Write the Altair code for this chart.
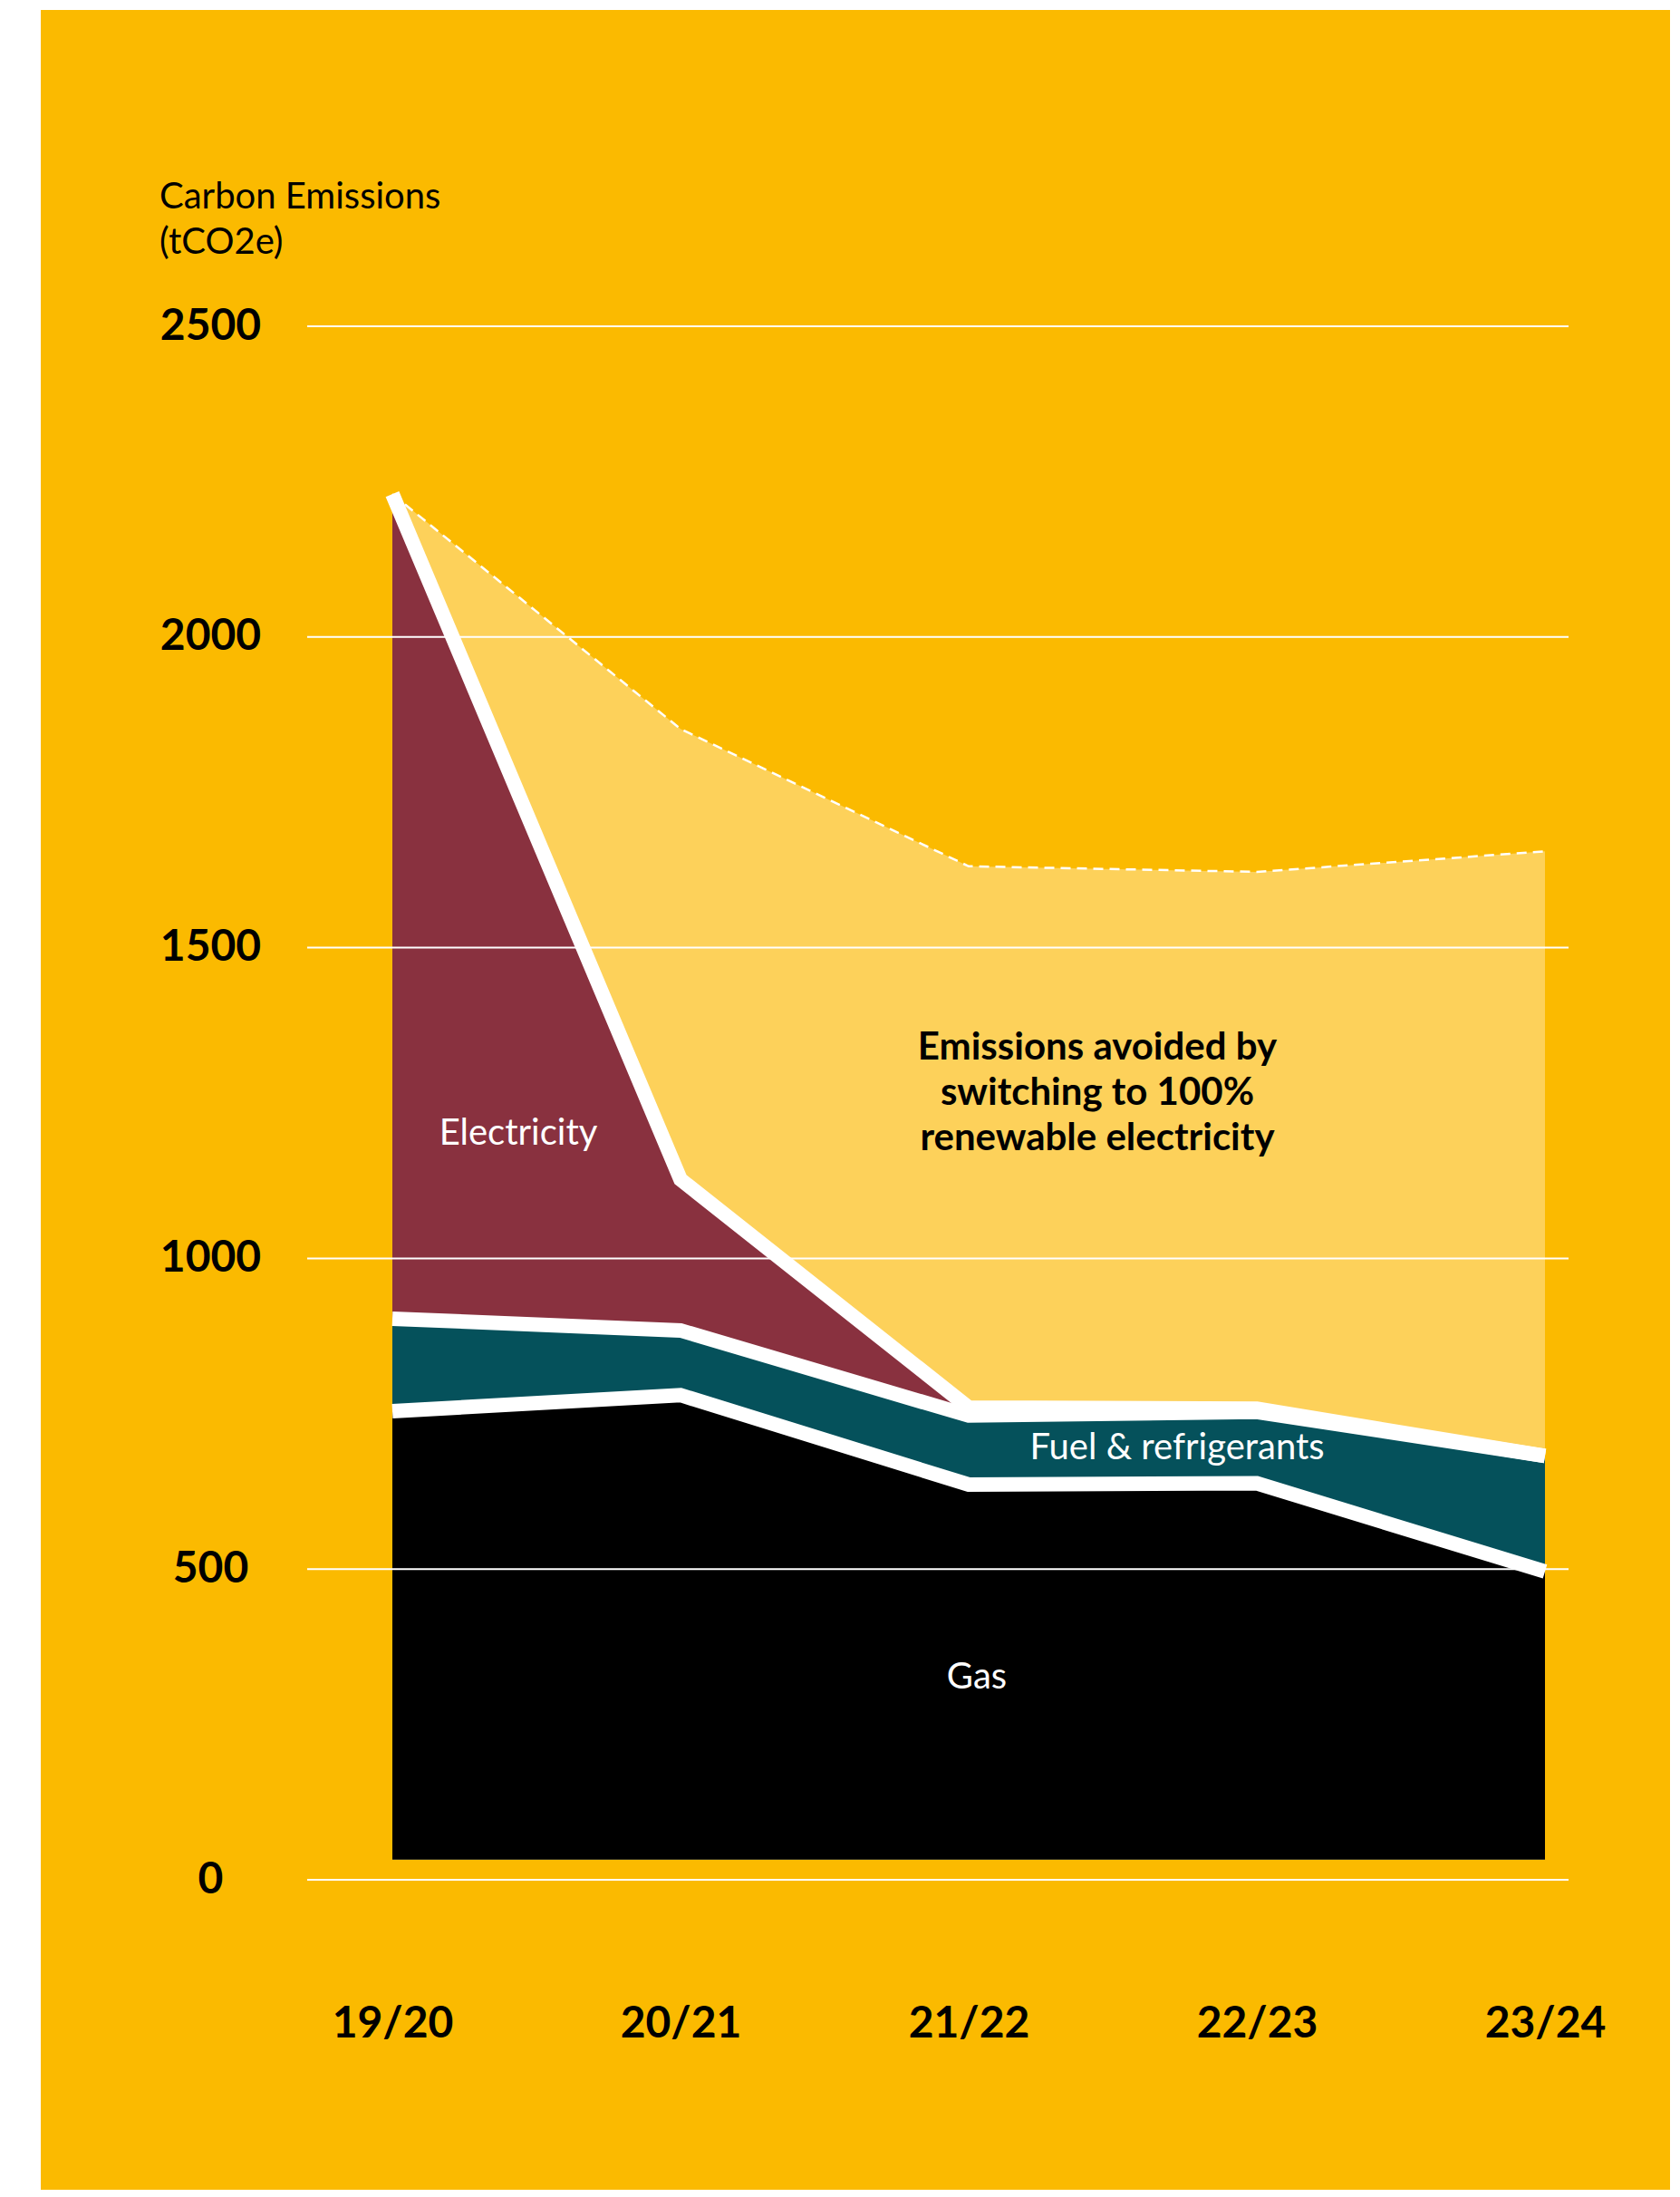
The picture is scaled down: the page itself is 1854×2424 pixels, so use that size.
import altair as alt
import pandas as pd

# ---- data ----
periods = ["19/20", "20/21", "21/22", "22/23", "23/24"]
gas = [754, 780, 636, 638, 496]
fuel_refrigerants = [149, 104, 111, 115, 186]
electricity = [1327, 243, 13, 5, 0]
total_without_renewables = [2230, 1852, 1631, 1622, 1655]
area_base = 33
y_ticks = [0, 500, 1000, 1500, 2000, 2500]

title_lines = ["Carbon Emissions", "(tCO2e)"]

label_texts = ["Electricity",
               "Emissions avoided by\nswitching to 100%\nrenewable electricity",
               "Fuel & refrigerants",
               "Gas"]
label_periods = ["19/20", "21/22", "22/23", "21/22"]
label_values = [1200, 1339, 695, 325]

df = pd.DataFrame({
    "period": periods,
    "gas": gas,
    "fuel": fuel_refrigerants,
    "elec": electricity,
    "total": total_without_renewables,
})
df["gas_top"] = df["gas"]
df["fuel_top"] = df["gas"] + df["fuel"]
df["elec_top"] = df["fuel_top"] + df["elec"]
df["base"] = area_base

labels_df = pd.DataFrame({"text": label_texts, "period": label_periods, "value": label_values})
ticks_df = pd.DataFrame({"tick": y_ticks})

FONT = "Lato"
W, H = 1392, 1714

x_enc = alt.X("period:O", sort=periods,
              scale=alt.Scale(type="point", range=[94, 1366], padding=0),
              axis=alt.Axis(title=None, labelAngle=0, labelFont=FONT, labelFontSize=48,
                            labelFontWeight="bold", labelColor="black", labelPadding=159,
                            labelBaseline="middle", ticks=False, tickSize=0, domain=False,
                            grid=False, zindex=2))

def y_enc(field):
    return alt.Y(f"{field}:Q",
                 scale=alt.Scale(domain=[0, 2500], nice=False),
                 axis=alt.Axis(title=None, values=y_ticks, format="d", labelFont=FONT,
                               labelFontSize=48, labelFontWeight="bold", labelColor="black",
                               labelAlign="center", labelPadding=107, ticks=False, tickSize=0,
                               domain=False, grid=False, zindex=2))

base = alt.Chart(df)

panel = alt.Chart(alt.Data(values=[{}])).mark_rect(color="#FBBA00").encode(
    x=alt.value(-294), x2=alt.value(1504), y=alt.value(-349), y2=alt.value(2060))

title = alt.Chart(alt.Data(values=[{"t": "\n".join(title_lines)}])).mark_text(
    align="left", baseline="alphabetic", font=FONT, fontSize=40, color="black",
    lineBreak="\n", lineHeight=50).encode(
    x=alt.value(-163), y=alt.value(-130), text="t:N")

def area(field, color):
    return base.mark_area(color=color, opacity=1).encode(
        x=x_enc, y=y_enc(field), y2=alt.Y2("base:Q"))

avoided = area("total", "#FDD15A")
elec_area = area("elec_top", "#89313F")
fuel_area = area("fuel_top", "#05515B")
gas_area = area("gas_top", "#000000")

def white_line(field):
    return base.mark_line(color="white", strokeWidth=16, strokeJoin="miter",
                          strokeMiterLimit=20, strokeCap="butt").encode(
        x=x_enc, y=y_enc(field))

line_gas = white_line("gas_top")
line_fuel = white_line("fuel_top")
line_elec = white_line("elec_top")

dashed = base.mark_line(color="white", strokeWidth=2.5, strokeDash=[11, 7]).encode(
    x=x_enc, y=y_enc("total"))

gridlines = alt.Chart(ticks_df).mark_rule(color="white", strokeWidth=2).encode(
    y=y_enc("tick"), x=alt.value(0), x2=alt.value(W))

def label(i, color, weight, dx, size=40):
    return alt.Chart(labels_df.iloc[[i]]).mark_text(
        color=color, font=FONT, fontSize=size, fontWeight=weight, dx=dx,
        align="center", baseline="middle", lineBreak="\n", lineHeight=50).encode(
        x=x_enc, y=y_enc("value"), text="text:N")

t_elec = label(0, "white", "normal", 139)
t_avoid = label(1, "black", "bold", 142, size=42)
t_fuel = label(2, "white", "normal", -88)
t_gas = label(3, "white", "normal", 9)

chart = alt.layer(
    panel, title, avoided, elec_area, fuel_area, gas_area,
    line_gas, line_fuel, line_elec, dashed, gridlines,
    t_elec, t_avoid, t_fuel, t_gas,
).properties(
    width=W,
    height=H,
    autosize=alt.AutoSizeParams(type="none"),
    padding={"left": 331, "top": 352, "right": 115, "bottom": 342},
).configure_view(stroke=None).configure(background="white")

chart.save("out.html", embed_options={"renderer": "svg", "actions": False})
